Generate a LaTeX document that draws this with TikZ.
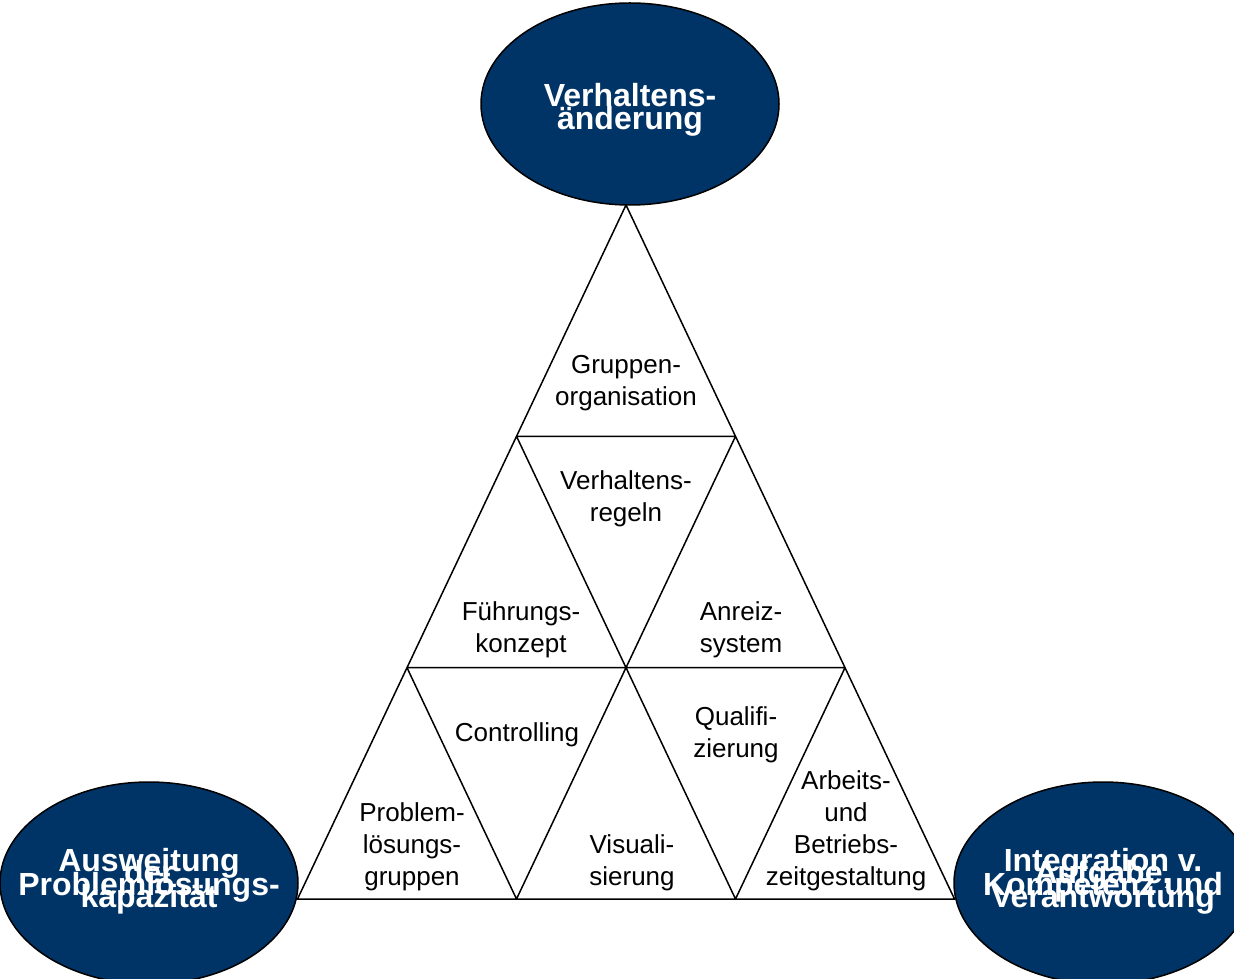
\documentclass[tikz,border=0pt]{standalone}
\usepackage{fontspec}
\setmainfont{Liberation Sans}
\usetikzlibrary{shapes.geometric}
\definecolor{navy}{RGB}{0,51,102}
\newcommand{\tightlines}{\lineskiplimit=-100pt\relax}

\begin{document}
\begin{tikzpicture}[x=0.5pt, y=-0.5pt, line width=0.75pt,
    goal/.style={ellipse, draw=black, fill=navy, inner sep=0pt,
      minimum width=149pt, minimum height=101pt},
    goaltext/.style={text=white, inner sep=0pt, align=center,
      font={\bfseries\fontsize{16}{6}\selectfont\tightlines}},
    field/.style={align=center, inner sep=0pt, font=\fontsize{13}{16}\selectfont}]
    \useasboundingbox (0,0) rectangle (1234,978);
    	% corners of the triangle grid
    	\coordinate (a)  at (626,205);
    	\coordinate (b1) at (516.5,436.3);
    	\coordinate (b2) at (735.5,436.3);
    	\coordinate (c1) at (407,667.7);
    	\coordinate (c2) at (626,667.7);
    	\coordinate (c3) at (845,667.7);
    	\coordinate (d1) at (297.5,899);
    	\coordinate (d2) at (516.5,899);
    	\coordinate (d3) at (735.5,899);
    	\coordinate (d4) at (954.5,899);
		\draw 	(a) -- (d1) -- (d4) -- cycle
				(b1) -- (b2)
				(c1) -- (c3)
				(b1) -- (d3)
				(b2) -- (d2)
				(c1) -- (d2)
				(c3) -- (d3)
	;
    	\node[field] (gruppe) at (626,383) {Gruppen-\\organisation};
    	\node[field] (regeln) at (626,499) {Verhaltens-\\regeln};
    	\node[field] (fuehrung) at (521,630) {Führungs-\\konzept};
    	\node[field] (anreiz) at (741,630) {Anreiz-\\system};
    	\node[field] (contr) at (517,735) {Controlling};
    	\node[field] (quali) at (736,735) {Qualifi-\\zierung};
    	\node[field] (problem) at (412,847) {Problem-\\lösungs-\\gruppen};
    	\node[field] (visual) at (632,863) {Visuali-\\sierung};
    	\node[field] (arbeit) at (846,831) {Arbeits-\\und\\Betriebs-\\zeitgestaltung};
    	% the three goals
    	\node[goal] (verh) at (630,104) {};
    	\node[goal] (ausw) at (149,883) {};
    	\node[goal] (integ) at (1103,883) {};
    	\node[goaltext, font={\bfseries\fontsize{16}{11.5}\selectfont\tightlines}] (verhtxt) at (630,110) {Verhaltens-\\änderung};
    	\node[goaltext] (auswtxt) at (149,881) {Ausweitung\\der\\Problemlösungs-\\kapazität};
    	\node[goaltext] (integtxt) at (1103,881) {Integration v.\\Aufgabe,\\Kompetenz und\\Verantwortung};
    \end{tikzpicture}
\end{document}
